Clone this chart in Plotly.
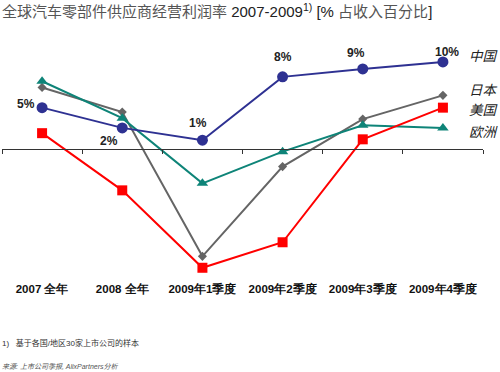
import plotly.graph_objects as go

categories = ["2007 全年", "2008 全年", "2009年1季度", "2009年2季度", "2009年3季度", "2009年4季度"]
china = [4.7, 2.4, 1.0, 8.2, 9.1, 9.9]
japan = [7.0, 4.2, -12.2, -2.0, 3.4, 6.1]
usa = [1.8, -4.7, -13.5, -10.6, 1.1, 4.7]
europe = [7.7, 3.5, -3.9, -0.3, 2.7, 2.4]
china_labels = ["5%", "2%", "1%", "8%", "9%", "10%"]
series_names = ["中国", "日本", "美国", "欧洲"]

YMIN, YMAX = -14.89, 12.39
FONT = "Liberation Sans, Arial, Noto Sans CJK SC, sans-serif"

fig = go.Figure()
styles = [
    (japan, "日本", "#656565", "diamond", 7),
    (europe, "欧洲", "#0E8478", "triangle-up", 10),
    (usa, "美国", "#FF0000", "square", 10),
    (china, "中国", "#2E3192", "circle", 11),
]
for vals, name, color, sym, size in styles:
    fig.add_trace(go.Scatter(
        x=categories, y=vals, name=name, mode="lines+markers",
        line=dict(color=color, width=2),
        marker=dict(symbol=sym, size=size, color=color),
        showlegend=False, hoverinfo="skip",
    ))

# invisible helper trace so the zero-line axis (x2) with boundary ticks is drawn
idx = list(range(len(categories)))
fig.add_trace(go.Scatter(x=idx, y=china, xaxis="x2", mode="lines",
                         line=dict(width=0, color="rgba(0,0,0,0)"),
                         showlegend=False, hoverinfo="skip"))

# China data labels
shifts = [(-16, 4), (-13, -13), (-4, 17), (0, 20), (-7, 16), (4, 10)]
for c, v, t, (dx, dy) in zip(categories, china, china_labels, shifts):
    fig.add_annotation(x=c, y=v, text=f"<b>{t}</b>", showarrow=False,
                       xshift=dx, yshift=dy, font=dict(size=12, color="#222", family=FONT))

# Series name labels at right
last = {"中国": china[-1], "日本": japan[-1], "美国": usa[-1], "欧洲": europe[-1]}
yshifts = {"中国": 7, "日本": 6, "美国": -1, "欧洲": -3}
for n in series_names:
    fig.add_annotation(x=categories[-1], y=last[n], text=f"<i>{n}</i>", showarrow=False,
                       xshift=41, yshift=yshifts[n],
                       font=dict(size=13.5, color="#222", family="Noto Sans CJK SC, sans-serif"))

# footnotes
fig.add_annotation(xref="paper", yref="paper", x=-0.004, y=-0.262, xanchor="left", yanchor="middle",
                   text="1)   基于各国/地区30家上市公司的样本", showarrow=False,
                   font=dict(size=8, color="#333", family=FONT))
fig.add_annotation(xref="paper", yref="paper", x=-0.004, y=-0.362, xanchor="left", yanchor="middle",
                   text="<i>来源: 上市公司季报, AlixPartners分析</i>", showarrow=False,
                   font=dict(size=7, color="#555", family=FONT))

pos = (0 - YMIN) / (YMAX - YMIN)
fig.update_layout(
    width=500, height=372,
    margin=dict(l=2, r=17, t=40, b=92),
    plot_bgcolor="white", paper_bgcolor="white",
    title=dict(
        text="<span style='color:#555'>全球汽车零部件供应商经营利润率</span> 2007-2009<sup>1)</sup> [% <span style='color:#555'>占收入百分比</span>]",
        x=0.004, xanchor="left", y=0.968, yanchor="middle",
        font=dict(size=15, color="#222", family=FONT),
    ),
    xaxis=dict(type="category", categoryarray=categories, range=[-0.5, 5.5],
               showline=False, showgrid=False, ticks="", zeroline=False,
               tickfont=dict(size=11.5, color="#111", family="Liberation Sans, Arial, sans-serif"),
               tickprefix="<b>", ticksuffix="</b>"),
    xaxis2=dict(overlaying="x", anchor="free", position=pos, range=[-0.5, 5.5],
                tickmode="array", tickvals=[i - 0.5 for i in range(len(categories) + 1)],
                showticklabels=False, ticks="outside", ticklen=4, tickcolor="#333",
                showline=True, linecolor="#333", linewidth=1, showgrid=False, zeroline=False),
    yaxis=dict(range=[YMIN, YMAX], visible=False, showgrid=False, zeroline=False),
    font=dict(family=FONT),
)
fig.write_html("out.html", config={"displayModeBar": False},
               post_script="document.body.style.margin='0';")
